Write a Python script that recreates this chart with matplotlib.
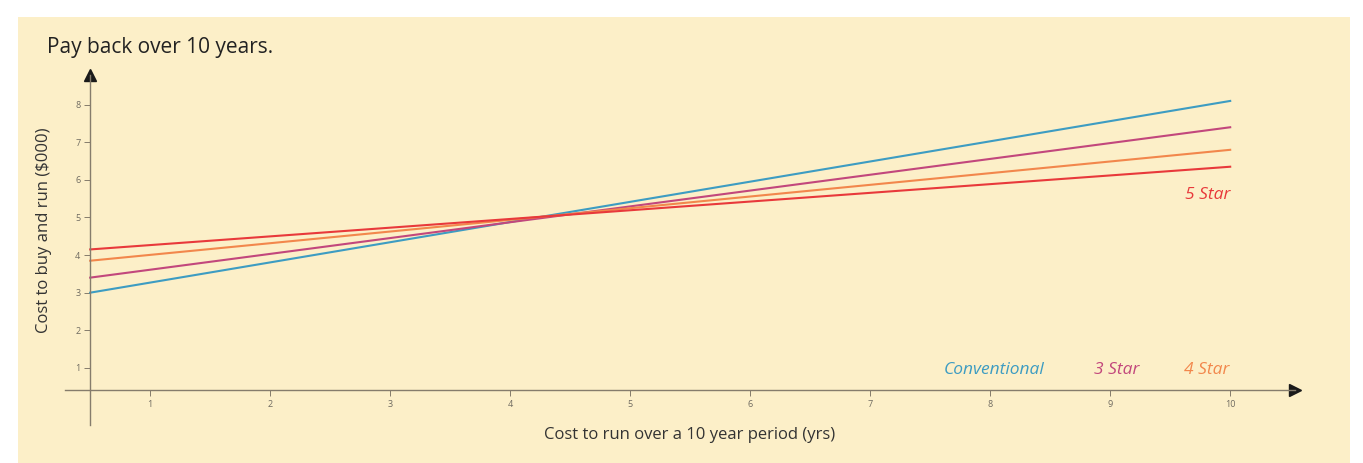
import matplotlib
matplotlib.use('Agg')
import matplotlib.pyplot as plt
from matplotlib.patches import Rectangle

# years on the x axis where the lines start and end
years = [0.5, 10]

# cost to buy and run ($000)
conventional = [3.0, 8.1]
star3 = [3.4, 7.4]
star4 = [3.85, 6.8]
star5 = [4.15, 6.35]

x_ticks = [1, 2, 3, 4, 5, 6, 7, 8, 9, 10]
y_ticks = [1, 2, 3, 4, 5, 6, 7, 8]

BLUE = '#3d9cc2'
PINK = '#c2477c'
ORANGE = '#f2874c'
RED = '#e8393b'
CREAM = '#fcefc8'
AXIS = '#857c6c'

plt.rcParams['font.family'] = ['Open Sans', 'DejaVu Sans']

W, H = 1363, 463
fig = plt.figure(figsize=(W / 100, H / 100), dpi=100, facecolor='white')
fig.patches.append(Rectangle((18 / W, 0), (1350 - 18) / W, (H - 17) / H,
                             transform=fig.transFigure, facecolor=CREAM,
                             edgecolor='none', zorder=-10))

ax = fig.add_axes([65 / W, (H - 425) / H, 1230 / W, 350 / H])
ax.set_facecolor('none')
ax.set_xlim(0.29, 10.54)
ax.set_ylim(-0.52, 8.79)

ax.plot(years, conventional, color=BLUE, lw=1.5)
ax.plot(years, star3, color=PINK, lw=1.5)
ax.plot(years, star4, color=ORANGE, lw=1.5)
ax.plot(years, star5, color=RED, lw=1.5)

# axes drawn through the data like the original
for s in ['top', 'right']:
    ax.spines[s].set_visible(False)
ax.spines['left'].set_position(('data', 0.5))
ax.spines['bottom'].set_position(('data', 0.4))
for s in ['left', 'bottom']:
    ax.spines[s].set_color(AXIS)
    ax.spines[s].set_linewidth(1.0)
ax.plot(1, 0.4, '>', color='#1a1a1a', ms=8, transform=ax.get_yaxis_transform(), clip_on=False)
ax.plot(0.5, 1, '^', color='#1a1a1a', ms=8, transform=ax.get_xaxis_transform(), clip_on=False)

ax.set_xticks(x_ticks)
ax.set_yticks(y_ticks)
ax.tick_params(axis='both', direction='out', length=4, width=0.7, color=AXIS,
               labelsize=6.5, labelcolor='#6e6a60', pad=3)

ax.text(8.03, 0.95, 'Conventional', color=BLUE, fontsize=12.5, style='italic', ha='center', va='center')
ax.text(9.05, 0.95, '3 Star', color=PINK, fontsize=12.5, style='italic', ha='center', va='center')
ax.text(9.8, 0.95, '4 Star', color=ORANGE, fontsize=12.5, style='italic', ha='center', va='center')
ax.text(9.81, 5.6, '5 Star', color=RED, fontsize=12.5, style='italic', ha='center', va='center')

fig.text(47 / W, 1 - 47 / H, 'Pay back over 10 years.', fontsize=15, color='#222222',
         ha='left', va='center')
fig.text(44 / W, 1 - 230 / H, 'Cost to buy and run ($000)', fontsize=12, color='#333333',
         rotation=90, ha='center', va='center')
fig.text(690 / W, 1 - 435 / H, 'Cost to run over a 10 year period (yrs)', fontsize=12,
         color='#333333', ha='center', va='center')

fig.savefig('out.png', dpi=100, facecolor='white')
